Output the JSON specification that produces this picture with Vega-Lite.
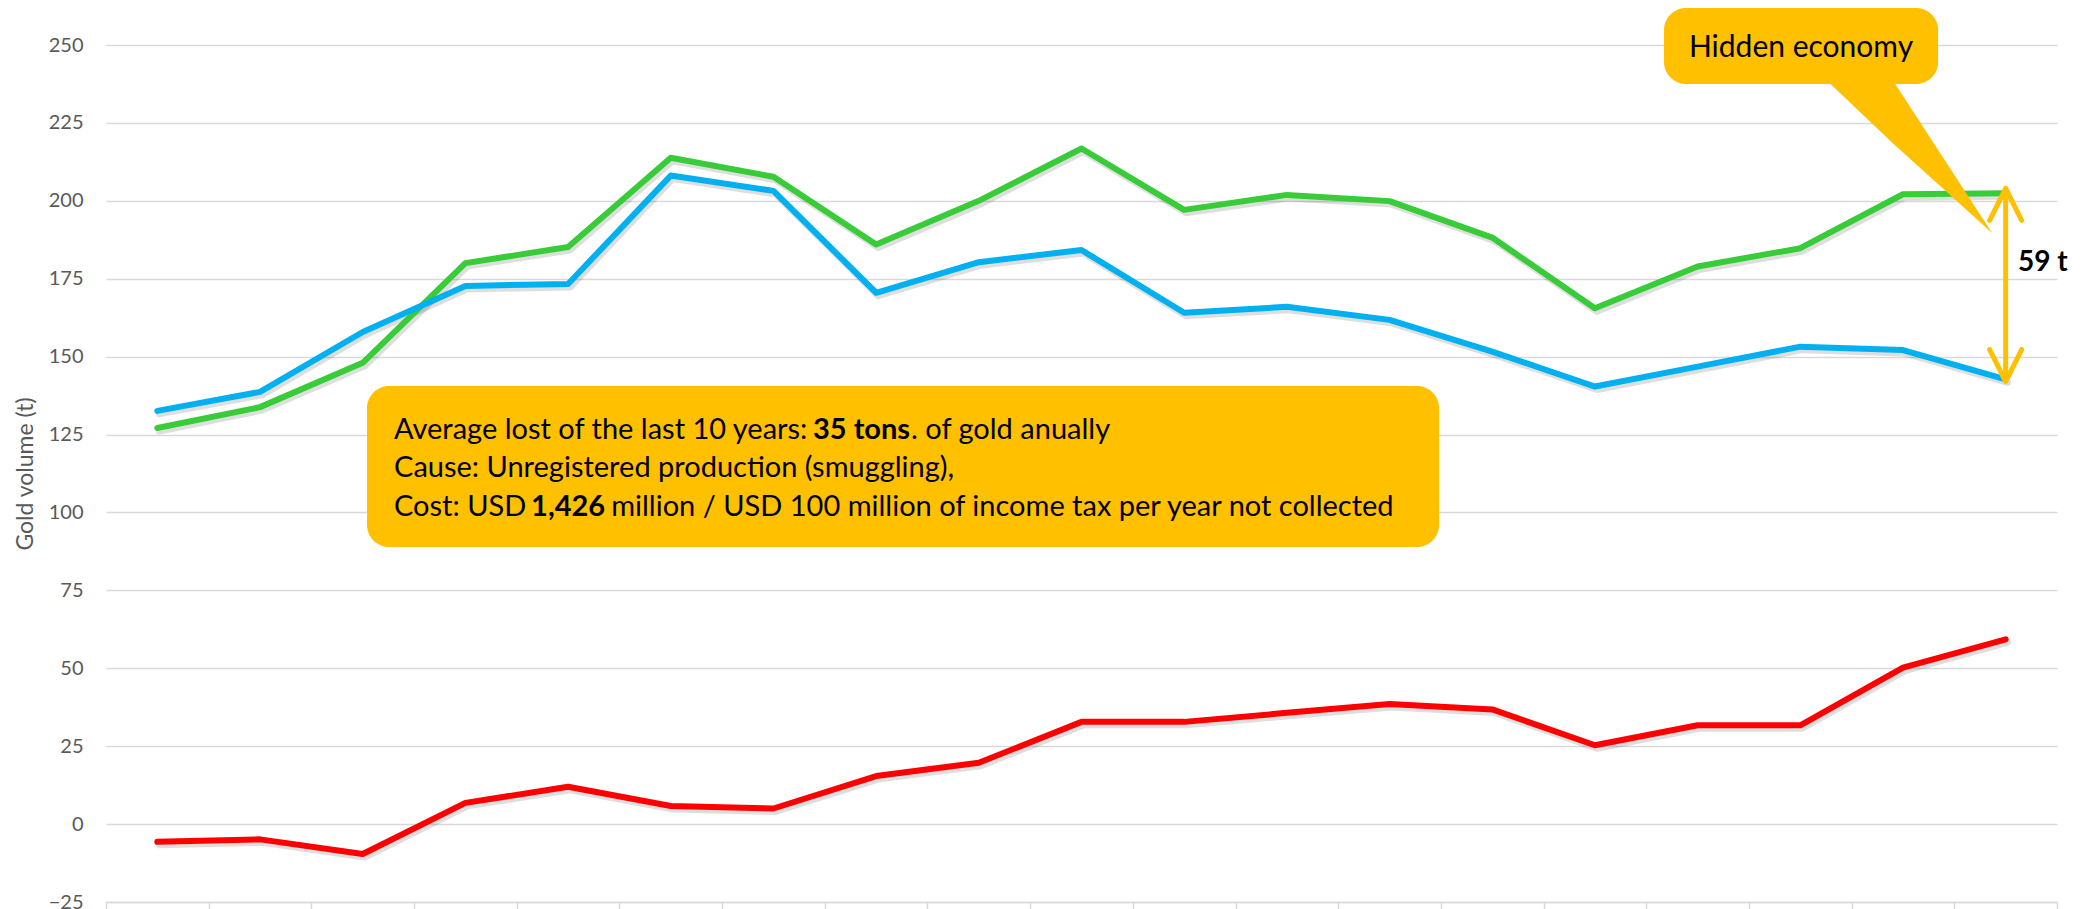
{
  "$schema": "https://vega.github.io/schema/vega-lite/v6.json",
  "width": 1951,
  "height": 857,
  "autosize": "none",
  "padding": {"left": 106, "top": 45, "right": 33, "bottom": 7},
  "background": "white",
  "config": {"view": {"stroke": null}, "font": "Lato"},
  "datasets": {
    "gold": [
      {"year": 2000, "exports": 127.1, "production": 132.6, "difference": -5.7},
      {"year": 2001, "exports": 133.8, "production": 138.7, "difference": -4.9},
      {"year": 2002, "exports": 148.0, "production": 157.9, "difference": -9.6},
      {"year": 2003, "exports": 180.0, "production": 172.7, "difference": 6.8},
      {"year": 2004, "exports": 185.2, "production": 173.3, "difference": 12.0},
      {"year": 2005, "exports": 213.8, "production": 208.1, "difference": 5.8},
      {"year": 2006, "exports": 207.7, "production": 203.2, "difference": 5.0},
      {"year": 2007, "exports": 186.0, "production": 170.5, "difference": 15.4},
      {"year": 2008, "exports": 200.0, "production": 180.3, "difference": 19.7},
      {"year": 2009, "exports": 216.8, "production": 184.2, "difference": 32.8},
      {"year": 2010, "exports": 197.1, "production": 164.1, "difference": 32.8},
      {"year": 2011, "exports": 201.9, "production": 166.0, "difference": 35.7},
      {"year": 2012, "exports": 199.9, "production": 161.8, "difference": 38.5},
      {"year": 2013, "exports": 188.2, "production": 151.6, "difference": 36.8},
      {"year": 2014, "exports": 165.5, "production": 140.4, "difference": 25.3},
      {"year": 2015, "exports": 178.9, "production": 146.8, "difference": 31.7},
      {"year": 2016, "exports": 184.8, "production": 153.2, "difference": 31.7},
      {"year": 2017, "exports": 202.1, "production": 152.1, "difference": 50.2},
      {"year": 2018, "exports": 202.4, "production": 142.7, "difference": 59.3}
    ],
    "boxes": [
      {"name": "summary", "x": 2002.042, "x2": 2012.482, "y": 88.92, "y2": 140.58},
      {"name": "hidden", "x": 2014.673, "x2": 2017.342, "y": 237.49, "y2": 261.87}
    ],
    "pointer": [
      {"x": 2016.261, "y": 238.5, "y2": 238.5},
      {"x": 2016.904, "y": 238.5, "y2": 218.36},
      {"x": 2017.868, "y": 189.67, "y2": 189.67}
    ],
    "noteNormal": [
      {"x": 2002.305, "y": 126.46, "text": "Average lost of the last 10 years:"},
      {"x": 2007.34, "y": 126.46, "text": ". of gold anually"},
      {"x": 2002.305, "y": 114.27, "text": "Cause: Unregistered production (smuggling),"},
      {"x": 2002.305, "y": 101.75, "text": "Cost: USD"},
      {"x": 2004.42, "y": 101.75, "text": "million / USD 100 million of income tax per year not collected"}
    ],
    "noteBold": [
      {"x": 2006.385, "y": 126.46, "text": "35 tons"},
      {"x": 2003.64, "y": 101.75, "text": "1,426"}
    ],
    "hiddenLabel": [
      {"x": 2016.007, "y": 249.04, "text": "Hidden economy"}
    ],
    "gap": [
      {"x": 2018, "y": 142, "y2": 204}
    ],
    "gapTop": [{"x": 2018, "y": 204}],
    "gapBottom": [{"x": 2018, "y": 142}],
    "gapLabel": [{"x": 2018.12, "y": 180.05, "text": "59 t"}]
  },
  "layer": [
    {
      "data": {"name": "gold"},
      "transform": [{"fold": ["exports", "production", "difference"], "as": ["series", "value"]}],
      "mark": {"type": "line", "color": "#000000", "opacity": 0.13, "strokeWidth": 7, "xOffset": 2, "yOffset": 3, "strokeJoin": "round", "strokeCap": "round"},
      "encoding": {
        "x": {
          "field": "year", "type": "quantitative",
          "scale": {"domain": [1999.5, 2018.5], "nice": false, "zero": false},
          "axis": {
            "values": [1999.5, 2000.5, 2001.5, 2002.5, 2003.5, 2004.5, 2005.5, 2006.5, 2007.5, 2008.5, 2009.5, 2010.5, 2011.5, 2012.5, 2013.5, 2014.5, 2015.5, 2016.5, 2017.5, 2018.5],
            "labels": false, "title": null, "grid": false,
            "domain": true, "domainColor": "#d9d9d9", "domainWidth": 1.5,
            "ticks": true, "tickColor": "#d9d9d9", "tickWidth": 1.5, "tickSize": 12
          }
        },
        "y": {
          "field": "value", "type": "quantitative",
          "scale": {"domain": [-25, 250], "nice": false, "zero": false},
          "axis": {
            "values": [-25, 0, 25, 50, 75, 100, 125, 150, 175, 200, 225, 250],
            "grid": true, "gridColor": "#d9d9d9", "gridWidth": 1.5,
            "domain": false, "ticks": false,
            "labelFontSize": 20, "labelColor": "#595959", "labelPadding": 23, "labelFont": "Lato",
            "title": "Gold volume (t)", "titleFontSize": 23, "titleFontWeight": "normal", "titleColor": "#595959", "titleFont": "Lato", "titlePadding": 11
          }
        },
        "detail": {"field": "series"}
      }
    },
    {
      "data": {"name": "gold"},
      "transform": [{"fold": ["exports", "production", "difference"], "as": ["series", "value"]}],
      "mark": {"type": "line", "strokeJoin": "round", "strokeCap": "round"},
      "encoding": {
        "x": {"field": "year", "type": "quantitative", "scale": {"domain": [1999.5, 2018.5], "nice": false, "zero": false}},
        "y": {"field": "value", "type": "quantitative", "scale": {"domain": [-25, 250], "nice": false, "zero": false}},
        "color": {
          "field": "series", "type": "nominal",
          "scale": {"domain": ["exports", "production", "difference"], "range": ["#38cc38", "#00b0f0", "#ff0000"]},
          "legend": null
        },
        "strokeWidth": {
          "field": "series", "type": "nominal",
          "scale": {"domain": ["exports", "production", "difference"], "range": [6, 6, 7]},
          "legend": null
        }
      }
    },
    {
      "data": {"name": "boxes"},
      "mark": {"type": "rect", "color": "#ffc000", "cornerRadius": 22},
      "encoding": {
        "x": {"field": "x", "type": "quantitative", "scale": {"domain": [1999.5, 2018.5], "nice": false, "zero": false}},
        "x2": {"field": "x2"},
        "y": {"field": "y", "type": "quantitative", "scale": {"domain": [-25, 250], "nice": false, "zero": false}},
        "y2": {"field": "y2"}
      }
    },
    {
      "data": {"name": "pointer"},
      "mark": {"type": "area", "color": "#ffc000", "orient": "vertical"},
      "encoding": {
        "x": {"field": "x", "type": "quantitative", "scale": {"domain": [1999.5, 2018.5], "nice": false, "zero": false}},
        "y": {"field": "y", "type": "quantitative", "scale": {"domain": [-25, 250], "nice": false, "zero": false}},
        "y2": {"field": "y2"}
      }
    },
    {
      "data": {"name": "noteNormal"},
      "mark": {"type": "text", "align": "left", "baseline": "middle", "fontSize": 29, "color": "#000000", "font": "Lato"},
      "encoding": {
        "x": {"field": "x", "type": "quantitative", "scale": {"domain": [1999.5, 2018.5], "nice": false, "zero": false}},
        "y": {"field": "y", "type": "quantitative", "scale": {"domain": [-25, 250], "nice": false, "zero": false}},
        "text": {"field": "text"}
      }
    },
    {
      "data": {"name": "noteBold"},
      "mark": {"type": "text", "align": "left", "baseline": "middle", "fontSize": 29, "fontWeight": "bold", "color": "#000000", "font": "Lato"},
      "encoding": {
        "x": {"field": "x", "type": "quantitative", "scale": {"domain": [1999.5, 2018.5], "nice": false, "zero": false}},
        "y": {"field": "y", "type": "quantitative", "scale": {"domain": [-25, 250], "nice": false, "zero": false}},
        "text": {"field": "text"}
      }
    },
    {
      "data": {"name": "hiddenLabel"},
      "mark": {"type": "text", "align": "center", "baseline": "middle", "fontSize": 30, "color": "#000000", "font": "Lato"},
      "encoding": {
        "x": {"field": "x", "type": "quantitative", "scale": {"domain": [1999.5, 2018.5], "nice": false, "zero": false}},
        "y": {"field": "y", "type": "quantitative", "scale": {"domain": [-25, 250], "nice": false, "zero": false}},
        "text": {"field": "text"}
      }
    },
    {
      "data": {"name": "gap"},
      "mark": {"type": "rule", "color": "#ffc000", "strokeWidth": 5},
      "encoding": {
        "x": {"field": "x", "type": "quantitative", "scale": {"domain": [1999.5, 2018.5], "nice": false, "zero": false}},
        "y": {"field": "y", "type": "quantitative", "scale": {"domain": [-25, 250], "nice": false, "zero": false}},
        "y2": {"field": "y2"}
      }
    },
    {
      "data": {"name": "gapTop"},
      "mark": {"type": "point", "shape": "M-1,2L0,0L1,2", "filled": false, "stroke": "#ffc000", "strokeWidth": 5, "size": 1024, "opacity": 1, "strokeCap": "round", "strokeJoin": "round"},
      "encoding": {
        "x": {"field": "x", "type": "quantitative", "scale": {"domain": [1999.5, 2018.5], "nice": false, "zero": false}},
        "y": {"field": "y", "type": "quantitative", "scale": {"domain": [-25, 250], "nice": false, "zero": false}}
      }
    },
    {
      "data": {"name": "gapBottom"},
      "mark": {"type": "point", "shape": "M-1,-2L0,0L1,-2", "filled": false, "stroke": "#ffc000", "strokeWidth": 5, "size": 1024, "opacity": 1, "strokeCap": "round", "strokeJoin": "round"},
      "encoding": {
        "x": {"field": "x", "type": "quantitative", "scale": {"domain": [1999.5, 2018.5], "nice": false, "zero": false}},
        "y": {"field": "y", "type": "quantitative", "scale": {"domain": [-25, 250], "nice": false, "zero": false}}
      }
    },
    {
      "data": {"name": "gapLabel"},
      "mark": {"type": "text", "align": "left", "baseline": "middle", "fontSize": 28, "fontWeight": "bold", "color": "#000000", "font": "Lato"},
      "encoding": {
        "x": {"field": "x", "type": "quantitative", "scale": {"domain": [1999.5, 2018.5], "nice": false, "zero": false}},
        "y": {"field": "y", "type": "quantitative", "scale": {"domain": [-25, 250], "nice": false, "zero": false}},
        "text": {"field": "text"}
      }
    }
  ]
}
